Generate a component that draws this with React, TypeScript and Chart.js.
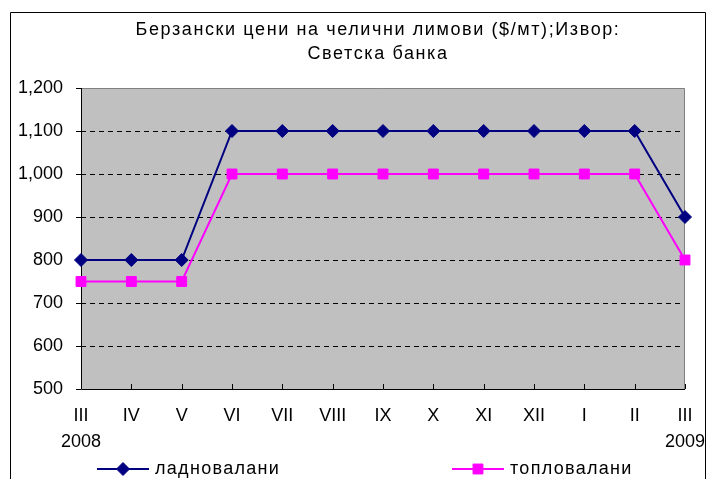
import React, { useEffect, useRef } from "react";
import { Chart, registerables } from "chart.js";

Chart.register(...registerables);

const romanLabels = ["III", "IV", "V", "VI", "VII", "VIII", "IX", "X", "XI", "XII", "I", "II", "III"];
const yearLabels = ["2008", "", "", "", "", "", "", "", "", "", "", "", "2009"];
const coldRolled = [800, 800, 800, 1100, 1100, 1100, 1100, 1100, 1100, 1100, 1100, 1100, 900];
const hotRolled = [750, 750, 750, 1000, 1000, 1000, 1000, 1000, 1000, 1000, 1000, 1000, 800];
const seriesNames = ["ладновалани", "топловалани"];
const titleLines = ["Берзански цени на челични лимови ($/мт);Извор:", "Светска банка"];
const yMin = 500;
const yMax = 1200;
const yStep = 100;

const FONT = "'Liberation Sans', Arial, sans-serif";
const NAVY = "#000080";
const MAGENTA = "#FF00FF";

function drawMarker(ctx: CanvasRenderingContext2D, style: string, r: number, x: number, y: number, color: string) {
  ctx.fillStyle = color;
  ctx.strokeStyle = color;
  ctx.lineWidth = 1;
  ctx.beginPath();
  if (style === "rectRot") {
    ctx.moveTo(x - r, y);
    ctx.lineTo(x, y - r);
    ctx.lineTo(x + r, y);
    ctx.lineTo(x, y + r);
    ctx.closePath();
  } else {
    const s = Math.SQRT1_2 * r;
    ctx.rect(x - s, y - s, 2 * s, 2 * s);
  }
  ctx.fill();
  ctx.stroke();
}

const decorPlugin = {
  id: "decor",
  beforeDatasetsDraw(chart: any) {
    const { ctx, chartArea } = chart;
    const { left, top, right, bottom } = chartArea;
    const y = chart.scales.y;
    const x = chart.scales.x;
    ctx.save();
    ctx.fillStyle = "#C0C0C0";
    ctx.fillRect(left, top, right - left, bottom - top);
    ctx.strokeStyle = "#000000";
    ctx.lineWidth = 1;
    ctx.setLineDash([5, 4]);
    for (let v = yMin + yStep; v < yMax; v += yStep) {
      const py = Math.round(y.getPixelForValue(v)) + 0.5;
      ctx.beginPath();
      ctx.moveTo(left, py);
      ctx.lineTo(right, py);
      ctx.stroke();
    }
    ctx.setLineDash([]);
    ctx.strokeStyle = "#808080";
    ctx.beginPath();
    ctx.moveTo(left, top + 0.5);
    ctx.lineTo(right - 0.5, top + 0.5);
    ctx.lineTo(right - 0.5, bottom);
    ctx.stroke();
    ctx.strokeStyle = "#000000";
    ctx.beginPath();
    ctx.moveTo(left + 0.5, top);
    ctx.lineTo(left + 0.5, bottom + 0.5);
    ctx.lineTo(right, bottom + 0.5);
    ctx.stroke();
    ctx.beginPath();
    for (let v = yMin; v <= yMax; v += yStep) {
      const py = Math.round(y.getPixelForValue(v)) + 0.5;
      ctx.moveTo(left - 5, py);
      ctx.lineTo(left, py);
    }
    ctx.stroke();
    ctx.beginPath();
    for (let i = 0; i < romanLabels.length; i++) {
      const px = Math.round(x.getPixelForValue(i)) + 0.5;
      ctx.moveTo(px, bottom);
      ctx.lineTo(px, bottom - 5);
    }
    ctx.stroke();
    ctx.restore();
  },
  afterDraw(chart: any) {
    const { ctx } = chart;
    ctx.save();
    ctx.strokeStyle = "#000000";
    ctx.lineWidth = 1;
    ctx.beginPath();
    ctx.moveTo(10.5, 490);
    ctx.lineTo(10.5, 12.5);
    ctx.lineTo(705.5, 12.5);
    ctx.lineTo(705.5, 490);
    ctx.stroke();
    ctx.fillStyle = "#000000";
    ctx.font = `18px ${FONT}`;
    ctx.textAlign = "center";
    ctx.textBaseline = "middle";
    (ctx as any).letterSpacing = "1.6px";
    ctx.fillText(titleLines[0], 378, 30);
    ctx.fillText(titleLines[1], 378, 54);
    const items = [
      { x0: 97, color: NAVY, style: "rectRot", radius: 6.5, text: chart.data.datasets[0].label },
      { x0: 452, color: MAGENTA, style: "rect", radius: 7, text: chart.data.datasets[1].label },
    ];
    const ly = 469;
    for (const it of items) {
      ctx.strokeStyle = it.color;
      ctx.lineWidth = 2;
      ctx.beginPath();
      ctx.moveTo(it.x0, ly);
      ctx.lineTo(it.x0 + 52, ly);
      ctx.stroke();
      drawMarker(ctx, it.style, it.radius, it.x0 + 26, ly, it.color);
      ctx.fillStyle = "#000000";
      ctx.textAlign = "left";
      ctx.font = `18px ${FONT}`;
      (ctx as any).letterSpacing = "1.3px";
      ctx.fillText(it.text, it.x0 + 58, ly);
    }
    (ctx as any).letterSpacing = "0px";
    ctx.restore();
  },
};

export default function App() {
  const ref = useRef<HTMLCanvasElement>(null);
  useEffect(() => {
    document.body.style.margin = "0";
    const canvas = ref.current!;
    const chart = new Chart(canvas, {
      type: "line",
      data: {
        labels: romanLabels.map((r, i) => [r, yearLabels[i]]),
        datasets: [
          {
            label: seriesNames[0],
            data: coldRolled,
            borderColor: NAVY,
            backgroundColor: NAVY,
            borderWidth: 2,
            pointStyle: "rectRot",
            pointRadius: 6.5,
            pointBorderWidth: 1,
            pointBackgroundColor: NAVY,
            pointBorderColor: NAVY,
            tension: 0,
            clip: false as any,
          },
          {
            label: seriesNames[1],
            data: hotRolled,
            borderColor: MAGENTA,
            backgroundColor: MAGENTA,
            borderWidth: 2,
            pointStyle: "rect",
            pointRadius: 7,
            pointBorderWidth: 1,
            pointBackgroundColor: MAGENTA,
            pointBorderColor: MAGENTA,
            tension: 0,
            clip: false as any,
          },
        ],
      },
      options: {
        animation: false,
        responsive: false,
        devicePixelRatio: 1,
        layout: { padding: { left: 0, top: 88, right: 22, bottom: 0 } },
        plugins: {
          legend: { display: false },
          title: { display: false },
          tooltip: { enabled: false },
        },
        scales: {
          x: {
            offset: false,
            grid: { display: false, drawTicks: false },
            border: { display: false },
            ticks: {
              color: "#000000",
              font: { family: FONT, size: 18, lineHeight: 1.45 },
              padding: 14,
              maxRotation: 0,
              autoSkip: false,
            },
            afterFit(scale: any) {
              scale.height = 90;
              scale.paddingRight = 0;
              scale.paddingLeft = 0;
            },
          },
          y: {
            min: yMin,
            max: yMax,
            grid: { display: false, drawTicks: true, tickLength: 5 },
            border: { display: false },
            ticks: {
              stepSize: yStep,
              color: "#000000",
              font: { family: FONT, size: 18 },
              padding: 13,
              callback: (v: any) => Number(v).toLocaleString("en-US"),
            },
            afterFit(scale: any) {
              scale.width = 81;
              scale.paddingTop = 0;
              scale.paddingBottom = 0;
            },
          },
        },
      },
      plugins: [decorPlugin],
    });
    return () => chart.destroy();
  }, []);
  return <canvas ref={ref} width={707} height={479} style={{ display: "block" }} />;
}
